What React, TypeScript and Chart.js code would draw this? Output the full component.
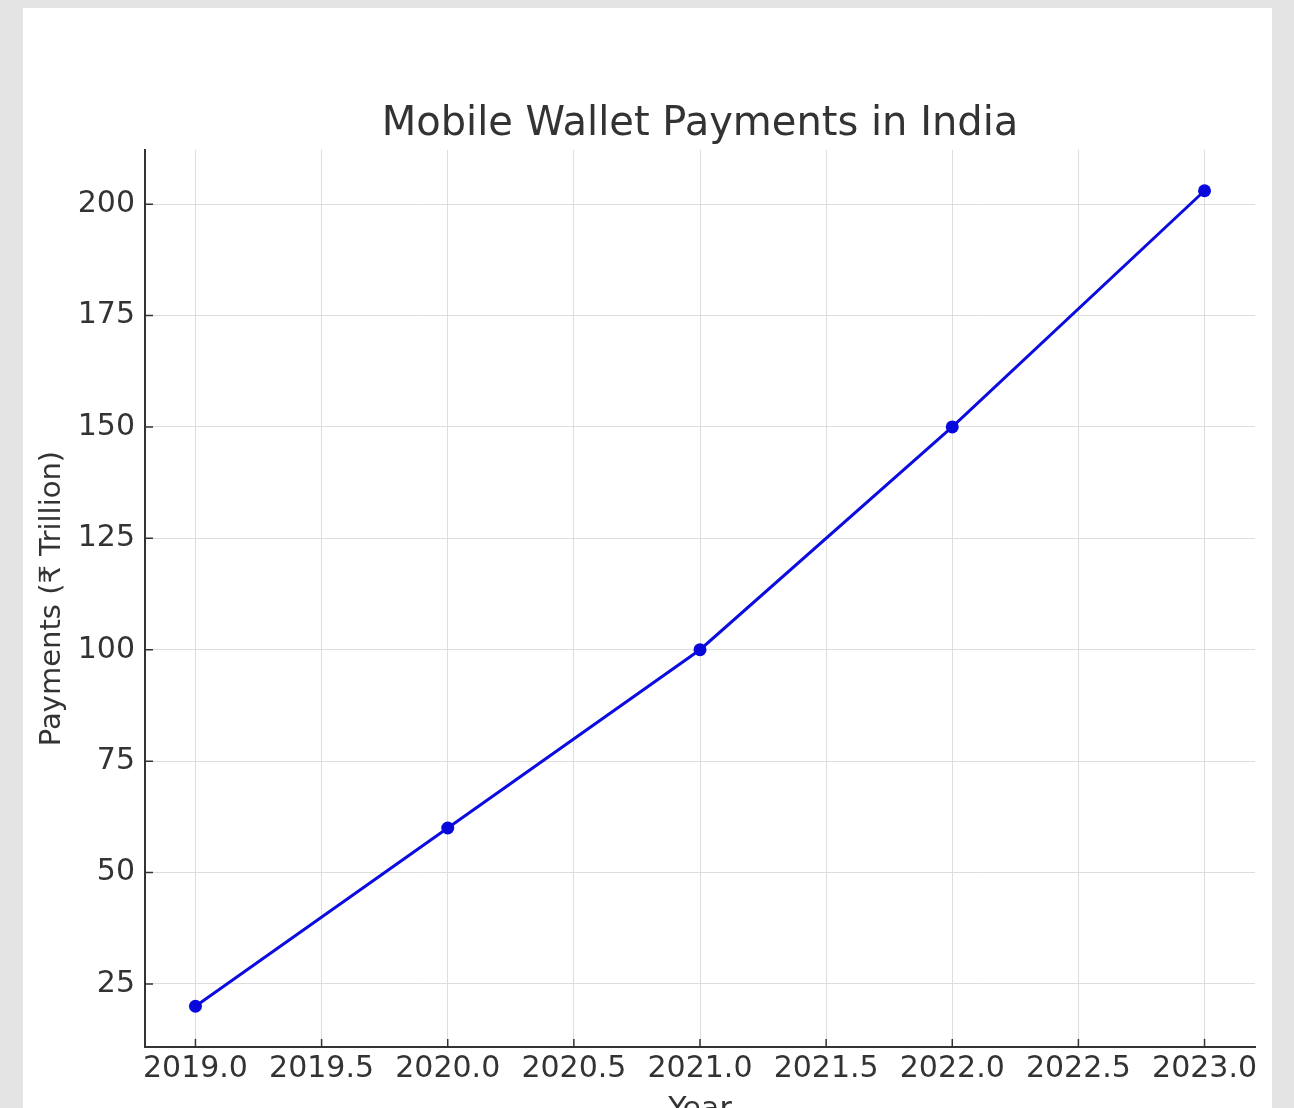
import React, { useEffect, useRef } from 'react';
import { Chart, registerables } from 'chart.js';

Chart.register(...registerables);

const years = [2019, 2020, 2021, 2022, 2023];
const payments = [20, 60, 100, 150, 203];
const xTicks = [2019, 2019.5, 2020, 2020.5, 2021, 2021.5, 2022, 2022.5, 2023];
const yTicks = [25, 50, 75, 100, 125, 150, 175, 200];
const xRange = [2018.8, 2023.2];
const yRange = [10.85, 212.15];
const chartTitle = 'Mobile Wallet Payments in India';
const xLabel = 'Year';
const yLabel = 'Payments (₹ Trillion)';

const FONT = '"DejaVu Sans", sans-serif';
const TEXT = '#333333';

const inwardTicks = {
  id: 'inwardTicks',
  afterDatasetsDraw(chart: any) {
    const { ctx, chartArea, scales } = chart;
    ctx.save();
    ctx.strokeStyle = '#333333';
    ctx.lineWidth = 1.5;
    ctx.beginPath();
    for (const v of xTicks) {
      const px = scales.x.getPixelForValue(v);
      ctx.moveTo(px, chartArea.bottom);
      ctx.lineTo(px, chartArea.bottom - 8);
    }
    for (const v of yTicks) {
      const py = scales.y.getPixelForValue(v);
      ctx.moveTo(chartArea.left, py);
      ctx.lineTo(chartArea.left + 8, py);
    }
    ctx.stroke();
    ctx.restore();
  },
};

export default function App() {
  const ref = useRef<HTMLCanvasElement | null>(null);

  useEffect(() => {
    if (!ref.current) return;
    const chart = new Chart(ref.current, {
      type: 'line',
      data: {
        datasets: [
          {
            data: years.map((y, i) => ({ x: y, y: payments[i] })),
            borderColor: '#0c0ce0',
            backgroundColor: '#0808dd',
            borderWidth: 3,
            pointRadius: 6.5,
            pointBorderWidth: 0,
            pointBackgroundColor: '#0808dd',
            tension: 0,
          },
        ],
      },
      options: {
        responsive: false,
        animation: false,
        layout: { padding: { left: 0, right: 17, top: 0, bottom: 0 } },
        plugins: {
          legend: { display: false },
          tooltip: { enabled: false },
          title: {
            display: true,
            text: chartTitle,
            fullSize: false,
            color: TEXT,
            font: { family: FONT, size: 40, weight: 'normal', lineHeight: 1.2 },
            padding: { top: 93, bottom: 1 },
          },
        },
        scales: {
          x: {
            type: 'linear',
            min: xRange[0],
            max: xRange[1],
            afterBuildTicks: (scale: any) => {
              scale.ticks = xTicks.map((v) => ({ value: v }));
            },
            afterFit: (scale: any) => {
              scale.height = 111;
            },
            ticks: {
              color: TEXT,
              font: { family: FONT, size: 30 },
              padding: 4,
              maxRotation: 0,
              autoSkip: false,
              callback: (v: any) => Number(v).toFixed(1),
            },
            grid: { color: '#dddddd', lineWidth: 1, drawTicks: false },
            border: { display: true, color: '#333333', width: 2 },
            title: {
              display: true,
              text: xLabel,
              color: TEXT,
              font: { family: FONT, size: 30, lineHeight: 1.2 },
              padding: { top: 0, bottom: 30 },
            },
          },
          y: {
            type: 'linear',
            min: yRange[0],
            max: yRange[1],
            afterBuildTicks: (scale: any) => {
              scale.ticks = yTicks.map((v) => ({ value: v }));
            },
            afterFit: (scale: any) => {
              scale.width = 122;
            },
            ticks: {
              color: TEXT,
              font: { family: FONT, size: 30 },
              padding: 10,
              autoSkip: false,
              callback: (v: any) => String(v),
            },
            grid: { color: '#dddddd', lineWidth: 1, drawTicks: false },
            border: { display: true, color: '#333333', width: 2 },
            title: {
              display: true,
              text: yLabel,
              color: TEXT,
              font: { family: FONT, size: 29, lineHeight: 1.2 },
              padding: { top: 12, bottom: 0 },
            },
          },
        },
      },
      plugins: [inwardTicks],
    } as any);
    return () => chart.destroy();
  }, []);

  return (
    <div
      style={{
        position: 'absolute',
        left: 0,
        top: 0,
        width: 1294,
        height: 1108,
        background: '#e4e4e4',
        overflow: 'hidden',
      }}
    >
      <div
        style={{
          position: 'absolute',
          left: 23,
          top: 8,
          width: 1249,
          height: 1100,
          background: '#ffffff',
          overflow: 'hidden',
        }}
      >
        <canvas ref={ref} width={1249} height={1150} style={{ width: 1249, height: 1150, display: 'block' }} />
      </div>
    </div>
  );
}
